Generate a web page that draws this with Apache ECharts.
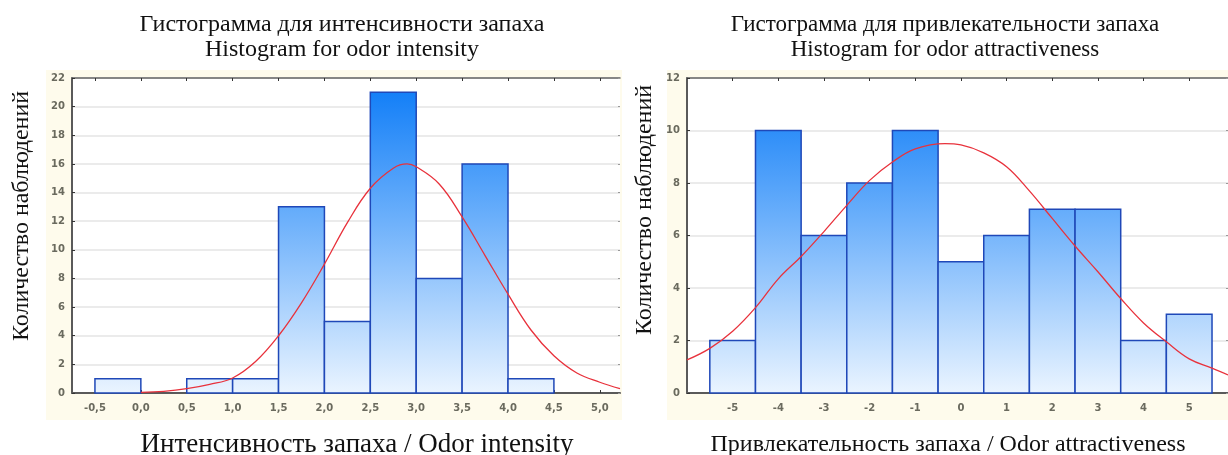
<!DOCTYPE html>
<html>
<head>
<meta charset="utf-8">
<script src="https://cdn.jsdelivr.net/npm/echarts@6/dist/echarts.min.js"></script>
<style>
html,body{margin:0;padding:0;background:#fff;}
#c{width:1228px;height:455px;}
</style>
</head>
<body>
<div id="c"></div>
<script>
// ---- Data ----
const intensityBinEdges = [-0.5, 0.0, 0.5, 1.0, 1.5, 2.0, 2.5, 3.0, 3.5, 4.0, 4.5];
const intensityCounts   = [1, 0, 1, 1, 13, 5, 21, 8, 16, 1];
const intensityTicks    = [-0.5, 0.0, 0.5, 1.0, 1.5, 2.0, 2.5, 3.0, 3.5, 4.0, 4.5, 5.0];
const intensityCurveX   = [0.0, 0.25, 0.5, 0.75, 1.0, 1.25, 1.5, 1.75, 2.0, 2.25, 2.5, 2.75, 2.9, 3.0, 3.25, 3.5, 3.75, 4.0, 4.25, 4.5, 4.75, 5.0, 5.22];
const intensityCurveY   = [0.05, 0.12, 0.3, 0.6, 1.05, 2.2, 4.0, 6.3, 9.0, 11.9, 14.3, 15.7, 16.0, 15.8, 14.6, 12.3, 9.6, 6.9, 4.4, 2.6, 1.4, 0.75, 0.3];

const attractBinEdges = [-5.5, -4.5, -3.5, -2.5, -1.5, -0.5, 0.5, 1.5, 2.5, 3.5, 4.5, 5.5];
const attractCounts   = [2, 10, 6, 8, 10, 5, 6, 7, 7, 2, 3];
const attractTicks    = [-5, -4, -3, -2, -1, 0, 1, 2, 3, 4, 5];
const attractCurveX   = [-6, -5.5, -5, -4.5, -4, -3.5, -3, -2.5, -2, -1.5, -1, -0.35, 0, 0.5, 1, 1.5, 2, 2.5, 3, 3.5, 4, 4.5, 5, 5.5, 5.85];
const attractCurveY   = [1.26, 1.7, 2.35, 3.25, 4.35, 5.2, 6.15, 7.15, 8.1, 8.8, 9.3, 9.5, 9.45, 9.15, 8.62, 7.7, 6.65, 5.6, 4.62, 3.6, 2.67, 1.95, 1.3, 0.95, 0.69];

const titleLeft  = 'Гистограмма для интенсивности запаха\nHistogram for odor intensity';
const titleRight = 'Гистограмма для привлекательности запаха\nHistogram for odor attractiveness';
const yName = 'Количество наблюдений';
const xNameLeft = 'Интенсивность запаха / Odor intensity';
const xNameRight = 'Привлекательность запаха / Odor attractiveness';

// ---- Helpers ----
function binsToData(edges, counts) {
  return counts.map((c, i) => [edges[i], edges[i + 1], c]);
}
function pairs(xs, ys) { return xs.map((x, i) => [x, ys[i]]); }

function histItem(params, api) {
  const c = api.value(2);
  if (!c) return null;
  const p0 = api.coord([api.value(0), c]);
  const p1 = api.coord([api.value(1), 0]);
  const cs = params.coordSys;
  return {
    type: 'rect',
    shape: { x: p0[0], y: p0[1], width: p1[0] - p0[0], height: p1[1] - p0[1] },
    style: {
      fill: {
        type: 'linear', x: 0, y: cs.y, x2: 0, y2: cs.y + cs.height, global: true,
        colorStops: [{ offset: 0, color: '#0a7af7' }, { offset: 0.45, color: '#6cb0fb' }, { offset: 1, color: '#eaf4ff' }]
      },
      stroke: '#1f48b8',
      lineWidth: 1.5
    }
  };
}

const serif = '"Liberation Serif", "DejaVu Serif", serif';
const tickFont = { fontFamily: '"DejaVu Sans", sans-serif', fontSize: 10, fontWeight: 'bold', color: '#6a6a5e' };
const axisLineStyle = { color: '#5a5a5a', width: 2 };

function bottomX(gi, min, max, ticks, fmt) {
  return {
    type: 'value', gridIndex: gi, min: min, max: max, position: 'bottom',
    axisLine: { show: true, onZero: false, lineStyle: axisLineStyle },
    axisTick: { show: true, inside: true, length: 3, customValues: ticks, lineStyle: { color: '#333' } },
    axisLabel: Object.assign({ customValues: ticks, margin: 10, formatter: fmt }, tickFont),
    splitLine: { show: false }
  };
}
function topX(gi, min, max, ticks) {
  return {
    type: 'value', gridIndex: gi, min: min, max: max, position: 'top',
    axisLine: { show: true, onZero: false, lineStyle: { color: '#666', width: 1.5 } },
    axisTick: { show: true, inside: true, length: 3, customValues: ticks, lineStyle: { color: '#333' } },
    axisLabel: { show: false }, splitLine: { show: false }
  };
}
function leftY(gi, max) {
  return {
    type: 'value', gridIndex: gi, min: 0, max: max, interval: 2, position: 'left',
    axisLine: { show: true, onZero: false, lineStyle: axisLineStyle },
    axisTick: { show: true, inside: true, length: 3, lineStyle: { color: '#333' } },
    axisLabel: Object.assign({ margin: 7 }, tickFont),
    splitLine: { show: true, lineStyle: { color: '#e4e4e4', width: 1.5 } }
  };
}
function rightY(gi, max) {
  return {
    type: 'value', gridIndex: gi, min: 0, max: max, interval: 2, position: 'right',
    axisLine: { show: false, onZero: false },
    axisTick: { show: true, inside: true, length: 2, lineStyle: { color: '#999' } },
    axisLabel: { show: false }, splitLine: { show: false }
  };
}
function yNameText(x, y) {
  return {
    type: 'text', x: x, y: y, rotation: Math.PI / 2, silent: true, z: 10,
    style: { text: yName, font: '24px "Liberation Serif", serif', fill: '#111',
             align: 'center', verticalAlign: 'middle', textAlign: 'center', textVerticalAlign: 'middle' }
  };
}

const commaFmt = v => v.toFixed(1).replace('.', ',');
const intFmt = v => String(v);

const chart = echarts.init(document.getElementById('c'), null, { renderer: 'canvas' });
chart.setOption({
  backgroundColor: '#ffffff',
  animation: false,
  title: [
    { text: titleLeft, left: 342, top: 12, textAlign: 'center', padding: 0,
      textStyle: { fontFamily: serif, fontSize: 24, fontWeight: 'normal', color: '#111', lineHeight: 25 } },
    { text: titleRight, left: 945, top: 12, textAlign: 'center', padding: 0,
      textStyle: { fontFamily: serif, fontSize: 23, fontWeight: 'normal', color: '#111', lineHeight: 25 } },
    { text: xNameLeft, left: 357, top: 430, textAlign: 'center', padding: 0,
      textStyle: { fontFamily: serif, fontSize: 27, fontWeight: 'normal', color: '#111', lineHeight: 30 } },
    { text: xNameRight, left: 948, top: 430, textAlign: 'center', padding: 0,
      textStyle: { fontFamily: serif, fontSize: 24, fontWeight: 'normal', color: '#111', lineHeight: 30 } }
  ],
  graphic: [
    { type: 'rect', z: -10, silent: true, shape: { x: 46, y: 70, width: 576, height: 350 }, style: { fill: '#fefbec' } },
    { type: 'rect', z: -10, silent: true, shape: { x: 667, y: 70, width: 561, height: 350 }, style: { fill: '#fefbec' } },
    yNameText(22, 216),
    yNameText(645, 210)
  ],
  grid: [
    { left: 72, top: 78, width: 548, height: 315, show: true, backgroundColor: '#ffffff', borderWidth: 0,
      containLabel: false, outerBoundsMode: 'none' },
    { left: 687, top: 78, width: 541, height: 315, show: true, backgroundColor: '#ffffff', borderWidth: 0,
      containLabel: false, outerBoundsMode: 'none' }
  ],
  xAxis: [
    bottomX(0, -0.75, 5.22, intensityTicks, commaFmt),
    topX(0, -0.75, 5.22, intensityTicks),
    bottomX(1, -6, 5.85, attractTicks, intFmt),
    topX(1, -6, 5.85, attractTicks)
  ],
  yAxis: [
    leftY(0, 22),
    rightY(0, 22),
    leftY(1, 12),
    rightY(1, 12)
  ],
  series: [
    { type: 'custom', xAxisIndex: 0, yAxisIndex: 0, renderItem: histItem,
      encode: { x: [0, 1], y: 2 }, data: binsToData(intensityBinEdges, intensityCounts), z: 2 },
    { type: 'line', xAxisIndex: 0, yAxisIndex: 0, data: pairs(intensityCurveX, intensityCurveY),
      smooth: 0.4, showSymbol: false, lineStyle: { color: '#e8323c', width: 1.3 }, z: 5 },
    { type: 'custom', xAxisIndex: 2, yAxisIndex: 2, renderItem: histItem,
      encode: { x: [0, 1], y: 2 }, data: binsToData(attractBinEdges, attractCounts), z: 2 },
    { type: 'line', xAxisIndex: 2, yAxisIndex: 2, data: pairs(attractCurveX, attractCurveY),
      smooth: 0.4, showSymbol: false, lineStyle: { color: '#e8323c', width: 1.3 }, z: 5 }
  ]
});
</script>
</body>
</html>
